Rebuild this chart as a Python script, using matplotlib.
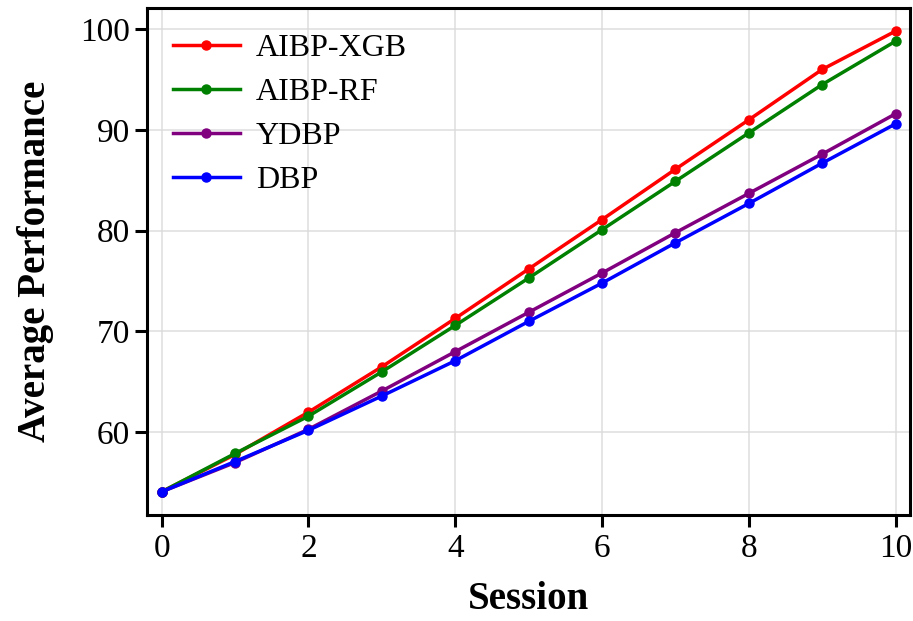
import matplotlib
matplotlib.use("Agg")
import matplotlib.pyplot as plt

# Values
sessions = [0, 1, 2, 3, 4, 5, 6, 7, 8, 9, 10]
aibp_xgb = [54.1, 57.8, 62.0, 66.5, 71.3, 76.2, 81.1, 86.1, 91.0, 96.0, 99.8]
aibp_rf = [54.1, 57.9, 61.6, 66.0, 70.6, 75.3, 80.1, 84.9, 89.7, 94.5, 98.8]
ydbp = [54.1, 57.0, 60.3, 64.1, 68.0, 71.9, 75.8, 79.8, 83.7, 87.6, 91.6]
dbp = [54.1, 57.1, 60.2, 63.6, 67.1, 71.0, 74.8, 78.8, 82.7, 86.7, 90.6]

series = [
    ("AIBP-XGB", aibp_xgb, "red"),
    ("AIBP-RF", aibp_rf, "green"),
    ("YDBP", ydbp, "purple"),
    ("DBP", dbp, "blue"),
]

plt.rcParams["font.family"] = ["Liberation Serif", "DejaVu Serif"]

fig, ax = plt.subplots(figsize=(9.13, 6.21), dpi=100)
fig.subplots_adjust(left=0.161, right=0.997, top=0.987, bottom=0.171)

for name, vals, color in series:
    ax.plot(sessions, vals, marker="o", color=color, linewidth=2.5,
            markersize=6.5, label=name)

ax.set_xlim(-0.2, 10.2)
ax.set_xticks([0, 2, 4, 6, 8, 10])
ax.set_yticks([60, 70, 80, 90, 100])
ax.grid(True, color="#d9d9d9", linewidth=1.2, alpha=0.8)
ax.set_axisbelow(True)

for sp in ax.spines.values():
    sp.set_linewidth(2.2)
ax.tick_params(axis="both", labelsize=24, length=8.5, width=2.2, direction="out")
ax.tick_params(axis="x", pad=5)

ax.set_xlabel("Session", fontsize=28, fontweight="bold", labelpad=12)
ax.set_ylabel("Average Performance", fontsize=28, fontweight="bold", labelpad=19)

ax.legend(loc="upper left", frameon=False, fontsize=23, handlelength=2.1,
          handletextpad=0.5, labelspacing=0.46, borderaxespad=0.4)

fig.savefig("out.png", dpi=100)
